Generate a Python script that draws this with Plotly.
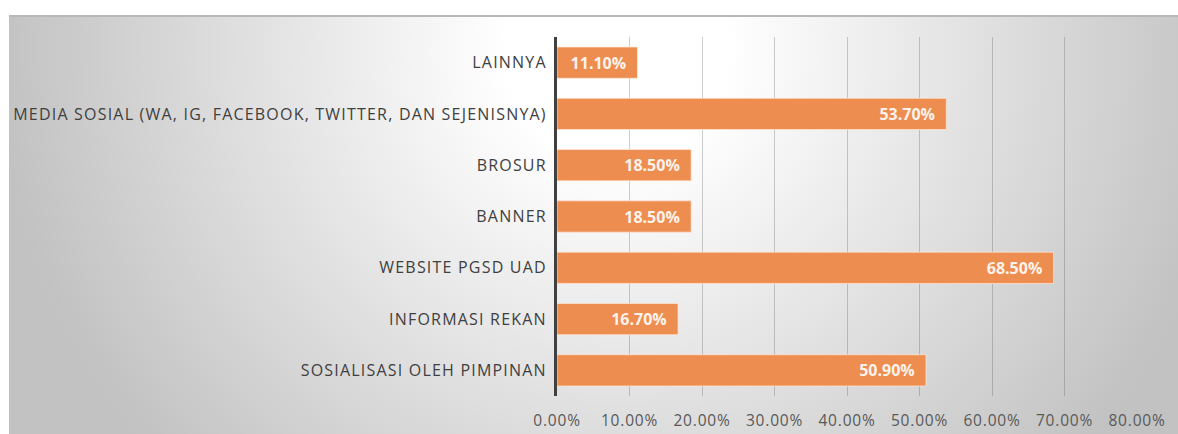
import base64
import plotly.graph_objects as go

# ---- data (top to bottom as shown) ----
categories = [
    "LAINNYA",
    "MEDIA SOSIAL (WA, IG, FACEBOOK, TWITTER, DAN SEJENISNYA)",
    "BROSUR",
    "BANNER",
    "WEBSITE PGSD UAD",
    "INFORMASI REKAN",
    "SOSIALISASI OLEH PIMPINAN",
]
percentages = [11.10, 53.70, 18.50, 18.50, 68.50, 16.70, 50.90]
tick_values = [0, 10, 20, 30, 40, 50, 60, 70, 80]

W, H = 1178, 434
ML, MR, MT, MB = 557, 41, 37, 38
PW, PH = W - ML - MR, H - MT - MB

def px_x(p):
    return (p - ML) / PW

def px_y(q):
    return (H - MB - q) / PH

# background radial gradient (Excel-style chart area)
bg_w, bg_h = W - 9, H - 16
svg = f'''<svg xmlns="http://www.w3.org/2000/svg" width="{bg_w}" height="{bg_h}" viewBox="0 0 {bg_w} {bg_h}" preserveAspectRatio="none">
<defs><radialGradient id="g" cx="0.52" cy="0.08" r="1" gradientTransform="translate(0.52,0.08) scale(0.53,1.45) translate(-0.52,-0.08)">
<stop offset="0" stop-color="#ffffff"/><stop offset="0.18" stop-color="#ffffff"/><stop offset="1" stop-color="#c2c2c2"/></radialGradient></defs>
<rect x="0" y="0" width="{bg_w}" height="{bg_h}" fill="url(#g)"/></svg>'''
bg_src = "data:image/svg+xml;base64," + base64.b64encode(svg.encode()).decode()

font_family = "'Open Sans', Lato, sans-serif"

fig = go.Figure()
fig.add_trace(go.Bar(
    y=categories,
    x=percentages,
    orientation="h",
    marker=dict(color="rgb(237,141,79)", line=dict(color="rgba(255,235,220,0.7)", width=1)),
    width=0.61,
    texttemplate="%{x:.2f}%\u00a0\u00a0",
    textposition="inside",
    insidetextanchor="end",
    textfont=dict(family=font_family, size=16, color="#fdf3ec", weight="bold"),
    constraintext="none",
    hoverinfo="skip",
))

fig.update_layout(
    width=W, height=H,
    margin=dict(l=ML, r=MR, t=MT, b=MB, pad=0, autoexpand=False),
    paper_bgcolor="white",
    plot_bgcolor="rgba(0,0,0,0)",
    showlegend=False,
    font=dict(family=font_family),
    images=[dict(
        source=bg_src, xref="paper", yref="paper",
        x=px_x(9), y=px_y(16), sizex=(W - 9) / PW, sizey=(H - 16) / PH,
        xanchor="left", yanchor="top", sizing="stretch", layer="below",
    )],
    shapes=[dict(
        type="line", xref="paper", yref="paper",
        x0=px_x(9), x1=px_x(W), y0=px_y(16), y1=px_y(16),
        line=dict(color="#b8b8b8", width=2),
    )],
)

fig.update_xaxes(
    range=[0, 80],
    tickvals=tick_values,
    ticktext=[f"{v:.2f}%" for v in tick_values],
    showgrid=True, gridcolor="rgba(80,80,80,0.28)", gridwidth=1,
    zeroline=False, showline=False,
    tickfont=dict(family=font_family, size=15.5, color="#595959"),
    ticks="outside", ticklen=10, tickcolor="rgba(0,0,0,0)",
    automargin=False,
    fixedrange=True,
)
fig.update_yaxes(
    autorange="reversed",
    showgrid=False, zeroline=False,
    showline=True, linecolor="#404040", linewidth=3,
    tickfont=dict(family=font_family, size=16, color="#404040"),
    ticks="", ticklabelstandoff=4,
    automargin=False,
    fixedrange=True,
)

post = (
    "document.body.style.margin='0';document.body.style.overflow='hidden';"
    "document.querySelectorAll('.ytick text').forEach(function(t){t.style.letterSpacing='1.2px';});"
    "document.querySelectorAll('.xtick text').forEach(function(t){t.style.letterSpacing='0.8px';});"
)

fig.write_html(
    "out.html",
    config={"displayModeBar": False},
    post_script=post,
)
